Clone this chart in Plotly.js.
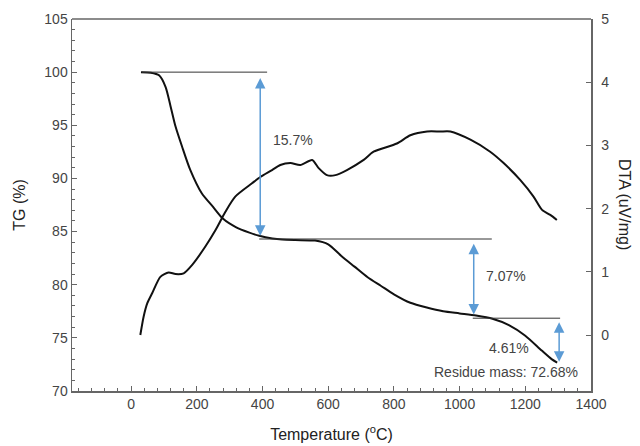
<!DOCTYPE html>
<html>
<head>
<meta charset="utf-8">
<script src="https://cdn.plot.ly/plotly-3.0.1.min.js"></script>
<style>html,body{margin:0;padding:0;background:#fff;}#chart{width:640px;height:446px;}</style>
</head>
<body>
<div id="chart"></div>
<script>
// TG curve (left axis, %)
var tgTemp = [30, 60, 85, 105, 120, 135, 155, 180, 215, 250, 280, 320, 360, 390, 430, 460, 500, 560, 600, 640, 680, 720, 760, 800, 850, 900, 950, 1000, 1050, 1100, 1150, 1200, 1250, 1280, 1297];
var tgVal  = [100, 99.95, 99.7, 98.6, 96.8, 94.9, 93.0, 90.8, 88.6, 87.3, 86.2, 85.4, 84.9, 84.6, 84.35, 84.25, 84.2, 84.15, 83.8, 82.7, 81.7, 80.7, 79.9, 79.1, 78.3, 77.85, 77.5, 77.3, 77.1, 76.8, 76.2, 75.2, 73.8, 73.0, 72.68];

// DTA curve (right axis, uV/mg)
var dtaTemp = [28, 38, 49, 64, 89, 114, 135, 160, 186, 226, 257, 287, 317, 368, 393, 429, 454, 485, 515, 551, 571, 596, 622, 657, 708, 738, 809, 850, 901, 941, 972, 1033, 1093, 1134, 1185, 1225, 1251, 1276, 1296];
var dtaVal  = [0, 0.29, 0.5, 0.66, 0.92, 0.99, 0.965, 0.976, 1.11, 1.40, 1.66, 1.95, 2.19, 2.40, 2.50, 2.61, 2.69, 2.72, 2.69, 2.77, 2.64, 2.53, 2.53, 2.61, 2.77, 2.90, 3.03, 3.16, 3.22, 3.22, 3.22, 3.09, 2.90, 2.72, 2.45, 2.19, 1.98, 1.90, 1.82];

// Reference (plateau) lines: level, start T, end T
var refLevel = [100, 84.3, 76.85];
var refStart = [33, 390, 1040];
var refEnd   = [414, 1098, 1306];

// Mass-loss arrows: temperature, top level, bottom level
var arrowTemp   = [393, 1043, 1303];
var arrowTop    = [99.6, 84.0, 76.6];
var arrowBottom = [84.6, 77.2, 72.75];

// Labels
var labelText = ['15.7%', '7.07%', '4.61%', 'Residue mass: 72.68%'];
var labelTemp = [494, 1140, 1149, 1142];
var labelTG   = [93.6, 80.8, 74.0, 71.75];

var xTicks = [0, 200, 400, 600, 800, 1000, 1200, 1400];
var tgTicks = [70, 75, 80, 85, 90, 95, 100, 105];
var dtaTicks = [0, 1, 2, 3, 4, 5];

var traces = [
  {x: tgTemp, y: tgVal, type: 'scatter', mode: 'lines', line: {color: '#111', width: 2, shape: 'spline', smoothing: 0.7}, yaxis: 'y', hoverinfo: 'skip'},
  {x: dtaTemp, y: dtaVal, type: 'scatter', mode: 'lines', line: {color: '#111', width: 2, shape: 'spline', smoothing: 0.7}, yaxis: 'y2', hoverinfo: 'skip'}
];

var shapes = [];
for (var i = 0; i < refLevel.length; i++) {
  shapes.push({type: 'line', xref: 'x', yref: 'y', x0: refStart[i], x1: refEnd[i], y0: refLevel[i], y1: refLevel[i], line: {color: '#333', width: 1}});
}
// plot frame (top)
shapes.push({type: 'line', xref: 'paper', yref: 'paper', x0: 0, x1: 1, y0: 1, y1: 1, line: {color: '#666', width: 1.5}});

var annotations = [];
for (var j = 0; j < arrowTemp.length; j++) {
  annotations.push({x: arrowTemp[j], y: arrowBottom[j], ax: arrowTemp[j], ay: arrowTop[j], xref: 'x', yref: 'y', axref: 'x', ayref: 'y',
    text: '', showarrow: true, arrowside: 'end+start', arrowhead: 2, startarrowhead: 2, arrowsize: 1.4, startarrowsize: 1.4,
    arrowwidth: 1.5, arrowcolor: '#5b9bd5', standoff: 0, startstandoff: 0});
}
for (var k = 0; k < labelText.length; k++) {
  annotations.push({x: labelTemp[k], y: labelTG[k], xref: 'x', yref: 'y', text: labelText[k], showarrow: false,
    font: {family: 'Liberation Sans, Arial, sans-serif', size: 14, color: '#444'}});
}
annotations.push({x: 1.0655, y: 0.5, xref: 'paper', yref: 'paper', xanchor: 'center', yanchor: 'middle', text: 'DTA (uV/mg)', textangle: 90, showarrow: false,
  font: {family: 'Liberation Sans, Arial, sans-serif', size: 16, color: '#222'}});

var layout = {
  width: 640, height: 446,
  margin: {l: 72, r: 49, t: 19, b: 55},
  paper_bgcolor: '#fff', plot_bgcolor: '#fff',
  showlegend: false,
  font: {family: 'Liberation Sans, Arial, sans-serif', size: 14, color: '#444'},
  xaxis: {range: [-180, 1400], tickvals: xTicks, ticks: 'inside', ticklen: 5, tickwidth: 1, tickcolor: '#666',
    showline: true, linecolor: '#666', linewidth: 1.5, showgrid: false, zeroline: false, mirror: false,
    minor: {dtick: 40, ticks: 'inside', ticklen: 3, tickcolor: '#666', showgrid: false},
    title: {text: 'Temperature (<sup>o</sup>C)', font: {size: 16, color: '#222'}, standoff: 17}},
  yaxis: {range: [70, 105], tickvals: tgTicks, ticks: 'inside', ticklen: 5, tickwidth: 1, tickcolor: '#666',
    showline: true, linecolor: '#666', linewidth: 1.5, showgrid: false, zeroline: false,
    minor: {dtick: 1, ticks: 'inside', ticklen: 3, tickcolor: '#666', showgrid: false},
    title: {text: 'TG (%)', font: {size: 16, color: '#222'}, standoff: 14}},
  yaxis2: {range: [-0.886, 5], tickvals: dtaTicks, overlaying: 'y', side: 'right', ticks: 'inside', ticklen: 5, tickwidth: 1, tickcolor: '#666',
    showline: true, linecolor: '#666', linewidth: 1.5, showgrid: false, zeroline: false, ticklabelstandoff: 6},
  shapes: shapes,
  annotations: annotations
};

Plotly.newPlot('chart', traces, layout, {staticPlot: true, displayModeBar: false});
</script>
</body>
</html>
